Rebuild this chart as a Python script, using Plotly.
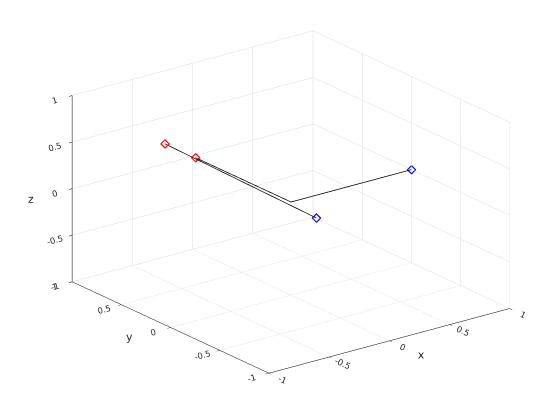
import plotly.graph_objects as go

# Data
line1_x = [-0.5, 0.48]
line1_y = [0.67, 0.33]
line1_z = [0.47, -0.5]

line2_x = [0.0, 0.0, 1.0]
line2_y = [0.97, 0.0, 0.0]
line2_z = [0.0, 0.0, 0.0]

red_x = [-0.5, 0.0]
red_y = [0.67, 0.97]
red_z = [0.47, 0.0]

blue_x = [0.48, 1.0]
blue_y = [0.33, 0.0]
blue_z = [-0.5, 0.0]

tick_vals = [-1, -0.5, 0, 0.5, 1]
tick_text = ["-1", "-0.5", "0", "0.5", "1"]

fig = go.Figure()
fig.add_trace(go.Scatter3d(x=line1_x, y=line1_y, z=line1_z, mode="lines",
                           line=dict(color="black", width=1.5), showlegend=False))
fig.add_trace(go.Scatter3d(x=line2_x, y=line2_y, z=line2_z, mode="lines",
                           line=dict(color="black", width=1.5), showlegend=False))
fig.add_trace(go.Scatter3d(x=red_x, y=red_y, z=red_z, mode="markers",
                           marker=dict(symbol="diamond-open", color="red", size=3,
                                       line=dict(color="red", width=1)),
                           showlegend=False))
fig.add_trace(go.Scatter3d(x=blue_x, y=blue_y, z=blue_z, mode="markers",
                           marker=dict(symbol="diamond-open", color="blue", size=3,
                                       line=dict(color="blue", width=1)),
                           showlegend=False))

axis_common = dict(
    range=[-1, 1], tickvals=tick_vals, ticktext=tick_text,
    showgrid=True, gridcolor="#dcdcdc", gridwidth=1,
    showbackground=False, showline=True, linecolor="black", linewidth=1,
    zeroline=False, ticks="outside", ticklen=4, tickcolor="black",
    tickfont=dict(family="DejaVu Sans", size=10, color="#262626"),
    showspikes=False, autorange=False,
)

S = 1.568
fig.update_layout(
    width=560, height=420,
    paper_bgcolor="white",
    margin=dict(l=0, r=0, t=0, b=0),
    font=dict(family="DejaVu Sans", size=10, color="#262626"),
    scene=dict(
        domain=dict(x=[0.0226, 0.9866], y=[0.078, 0.997]),
        xaxis=dict(title=dict(text="x", font=dict(size=11)), **axis_common),
        yaxis=dict(title=dict(text="y", font=dict(size=11)), **axis_common),
        zaxis=dict(title=dict(text="z", font=dict(size=11)), **axis_common),
        aspectmode="manual",
        aspectratio=dict(x=1 * S, y=1.074 * S, z=0.658 * S),
        camera=dict(
            eye=dict(x=-0.566 * 2.0, y=-0.744 * 2.0, z=0.353 * 2.0),
            up=dict(x=0, y=0, z=1),
            center=dict(x=0, y=0, z=0),
            projection=dict(type="orthographic"),
        ),
        bgcolor="white",
    ),
)

fig.write_html("out.html")
